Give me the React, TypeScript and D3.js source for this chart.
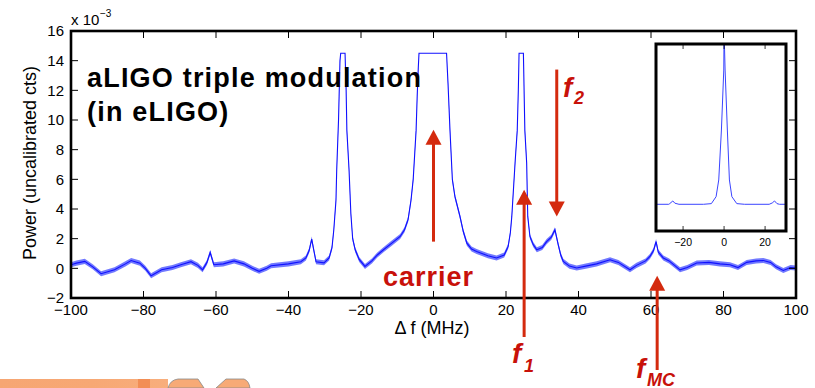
import React from 'react';
import * as d3 from 'd3';

// Main spectrum: frequency offset (MHz) vs power (x 10^-3 uncalibrated counts)
const freqMHz = [
  -100, -98.5, -96.2, -94, -91.7, -88, -85, -83.4, -81, -79.5, -77.9, -75, -72, -69.7, -66.9, -65, -63.7, -62.5,
  -61.6, -60.6, -58, -55, -52.3, -50, -48.1, -46, -44.8, -40, -36.6, -35.2, -34.3, -33.6, -33.0, -32.4, -30.2,
  -28.8, -28.0, -27.5, -26.9, -26.7, -26.2, -25.8, -25.6, -24.4, -24.1, -23.9, -23.3, -22.8, -22.3, -21.6, -20.5,
  -18.9, -17, -15.5, -13.8, -11.5, -9.2, -8, -7, -6.2, -5.6, -4.8, -4.5, -4.2, -4.0, 3.6, 4.0, 4.55, 5.2, 5.9,
  7.3, 8.2, 9.2, 10.5, 11.9, 15, 17.4, 19.5, 20.6, 21.2, 21.6, 22.5, 23.1, 23.4, 23.6, 24.8, 25.2, 25.7, 26.0,
  26.6, 27.5, 28.5, 30, 31.2, 32.5, 33.5, 34.4, 35.1, 35.8, 37.5, 39.5, 42, 45, 48.7, 51, 54.2, 56, 58.5, 59.7,
  60.7, 61.4, 62, 63.4, 65, 68, 70, 72.6, 76, 79, 81.8, 84, 86.4, 89, 91, 93, 94.5, 96.5, 98.5, 100,
];
const powerE3 = [
  0.24, 0.35, 0.47, 0.1, -0.36, -0.1, 0.3, 0.53, 0.35, 0.0, -0.5, -0.1, 0.05, 0.24, 0.45, 0.2, -0.1, 0.4,
  1.07, 0.24, 0.3, 0.5, 0.3, 0.0, -0.2, 0.0, 0.17, 0.3, 0.44, 0.7, 1.2, 1.97, 1.2, 0.44, 0.37,
  0.7, 1.4, 2.6, 4.6, 6.65, 10, 14.0, 14.5, 14.5, 12, 9.3, 6.65, 3.7, 2.0, 1.25, 0.6,
  0.13, 0.5, 0.9, 1.25, 1.7, 2.15, 2.6, 3.3, 4.6, 6.0, 9.3, 11.6, 13.5, 14.5, 14.5, 12.5, 9.3, 6.0, 4.85,
  3.5, 2.5, 1.7, 1.3, 1.14, 0.85, 0.7, 0.9, 1.48, 2.4, 3.5, 7.1, 9.3, 12, 14.5, 14.5, 9.3, 7.1, 3.5,
  2.15, 1.6, 1.25, 1.4, 1.8, 2.1, 2.6, 1.6, 0.9, 0.47, 0.15, 0.02, 0.15, 0.3, 0.58, 0.4, -0.1, 0.2, 0.5, 0.8,
  1.2, 1.8, 1.1, 0.7, 0.5, -0.1, 0.05, 0.36, 0.4, 0.3, 0.24, 0.05, 0.4, 0.5, 0.53, 0.4, 0.1, -0.14, 0.05, 0.02,
];

// Inset: wide-range view (arbitrary units)
const insetFreq = [-33.2, -27, -26.5, -25, -24, -22, -10, -6.2, -3.9, -2.6, -1.3, -0.15, 0, 0.5, 1.6, 2.6, 3.8, 6.2, 10, 22, 23.5, 24.6, 25.8, 27, 30.2];
const insetPower = [0, 0, 0.05, 0.25, 0.08, 0, 0, 0.05, 0.57, 1.82, 5.56, 10.05, 13, 10.05, 5.56, 1.82, 0.57, 0.05, 0, 0, 0.1, 0.25, 0.05, 0, 0];

const xTicks = [-100, -80, -60, -40, -20, 0, 20, 40, 60, 80, 100];
const yTicks = [-2, 0, 2, 4, 6, 8, 10, 12, 14, 16];
const insetTicks = [-20, 0, 20];

const FONT = 'Liberation Sans, Arial, Helvetica, sans-serif';
const RED = '#d42a0e';
const RED_TXT = '#c8110a';
const BLUE = '#1010ff';
const SAT = 14.4;

const fmt = (v: number) => (v < 0 ? '\u2212' + Math.abs(v) : String(v));

function Arrow({ x, y1, y2 }: { x: number; y1: number; y2: number }) {
  const dir = y2 < y1 ? -1 : 1;
  const headH = 15;
  const headW = 8;
  return (
    <g>
      <line x1={x} x2={x} y1={y1} y2={y2 - dir * headH + dir * 1} stroke={RED} strokeWidth={3} />
      <polygon points={`${x},${y2} ${x - headW},${y2 - dir * headH} ${x + headW},${y2 - dir * headH}`} fill={RED} />
    </g>
  );
}

export default function App() {
  const W = 815;
  const H = 388;
  const x = d3.scaleLinear().domain([-100, 100]).range([71, 796]);
  const y = d3.scaleLinear().domain([-2, 16]).range([298, 31]);
  const pts: [number, number][] = freqMHz.map((f, i) => [f, powerE3[i]]);
  const line = d3.line<[number, number]>().x((d) => x(d[0])).y((d) => y(d[1]));
  const half = (v: number) => (v >= SAT ? 0 : 0.17);
  const band = d3
    .area<[number, number]>()
    .x((d) => x(d[0]))
    .y0((d) => y(d[1] - half(d[1])))
    .y1((d) => y(d[1] + half(d[1])));

  const ix = d3.scaleLinear().domain([-33.2, 30.2]).range([656, 786]);
  const iy = d3.scaleLinear().domain([-2, 12]).range([231, 44]);
  const ipts: [number, number][] = insetFreq.map((f, i) => [f, insetPower[i]]);
  const iline = d3.line<[number, number]>().x((d) => ix(d[0])).y((d) => iy(d[1]));

  const [X0, X1] = x.range();
  const [Y0, Y1] = y.range();

  return (
    <svg width={W} height={H} style={{ position: 'absolute', left: 0, top: 0, background: '#fff' }} fontFamily={FONT}>
      <defs>
        <clipPath id="mainClip">
          <rect x={X0} y={Y1} width={X1 - X0} height={Y0 - Y1} />
        </clipPath>
        <clipPath id="insetClip">
          <rect x={656} y={44} width={130} height={187} />
        </clipPath>
        <linearGradient id="orange" x1="0" x2="1" y1="0" y2="0">
          <stop offset="0" stopColor="#f6a673" />
          <stop offset="0.55" stopColor="#f7a874" />
          <stop offset="1" stopColor="#f8ae7c" />
        </linearGradient>
      </defs>

      {/* trace */}
      <g clipPath="url(#mainClip)">
        <path d={band(pts) || ''} fill="#3540ff" opacity={0.7} />
        <path d={line(pts) || ''} fill="none" stroke={BLUE} strokeWidth={1.1} />
      </g>

      {/* ticks */}
      {xTicks.map((t) => (
        <g key={'xt' + t}>
          <line x1={x(t)} x2={x(t)} y1={Y0} y2={Y0 - 7} stroke="#000" strokeWidth={1} />
          <line x1={x(t)} x2={x(t)} y1={Y1} y2={Y1 + 7} stroke="#000" strokeWidth={1} />
          <text x={x(t)} y={315} fontSize={15} textAnchor="middle" fill="#000">
            {fmt(t)}
          </text>
        </g>
      ))}
      {yTicks.map((t) => (
        <g key={'yt' + t}>
          <line x1={X0} x2={X0 + 7} y1={y(t)} y2={y(t)} stroke="#000" strokeWidth={1} />
          <line x1={X1} x2={X1 - 7} y1={y(t)} y2={y(t)} stroke="#000" strokeWidth={1} />
          <text x={64} y={y(t)} dy="0.36em" fontSize={15} textAnchor="end" fill="#000">
            {fmt(t)}
          </text>
        </g>
      ))}

      {/* axes box */}
      <rect x={X0} y={Y1} width={X1 - X0} height={Y0 - Y1} fill="none" stroke="#000" strokeWidth={2.6} />

      {/* exponent */}
      <text x={71} y={25} fontSize={15} fill="#000">
        x 10
      </text>
      <text x={100} y={17} fontSize={10} fill="#000">
        {'\u22123'}
      </text>

      {/* axis labels */}
      <text transform="translate(36,163) rotate(-90)" fontSize={18} textAnchor="middle" fill="#000">
        Power (uncalibrated cts)
      </text>
      <text x={432} y={334} fontSize={18} textAnchor="middle" fill="#000">
        {'\u0394 f (MHz)'}
      </text>

      {/* title */}
      <text x={87} y={87} fontSize={27} fontWeight="bold" letterSpacing={1.2} fill="#000">
        aLIGO triple modulation
      </text>
      <text x={87} y={121} fontSize={27} fontWeight="bold" letterSpacing={1.2} fill="#000">
        (in eLIGO)
      </text>

      {/* inset */}
      <rect x={656} y={44} width={130} height={187} fill="#fff" stroke="none" />
      <g clipPath="url(#insetClip)">
        <path d={iline(ipts) || ''} fill="none" stroke="#3a44ff" strokeWidth={1} />
      </g>
      {insetTicks.map((t) => (
        <g key={'it' + t}>
          <line x1={ix(t)} x2={ix(t)} y1={44} y2={49} stroke="#000" strokeWidth={0.8} />
          <line x1={ix(t)} x2={ix(t)} y1={231} y2={226} stroke="#000" strokeWidth={0.8} />
          <text x={ix(t)} y={246} fontSize={10.5} textAnchor="middle" fill="#000">
            {fmt(t)}
          </text>
        </g>
      ))}
      <rect x={656} y={44} width={130} height={187} fill="none" stroke="#000" strokeWidth={3} />

      {/* annotations */}
      <Arrow x={x(0)} y1={y(1.8)} y2={y(9.35)} />
      <Arrow x={x(25)} y1={337} y2={y(5.3)} />
      <Arrow x={x(34)} y1={y(13.4)} y2={y(3.5)} />
      <Arrow x={x(61.7)} y1={370} y2={y(-0.5)} />

      <text x={383} y={286} fontSize={27} fontWeight="bold" letterSpacing={1} fill={RED_TXT}>
        carrier
      </text>
      <text x={563} y={97} fontSize={28} fontWeight="bold" fontStyle="italic" fill={RED_TXT}>
        f
      </text>
      <text x={574} y={104} fontSize={18} fontWeight="bold" fontStyle="italic" fill={RED_TXT}>
        2
      </text>
      <text x={512} y={363} fontSize={28} fontWeight="bold" fontStyle="italic" fill={RED_TXT}>
        f
      </text>
      <text x={524} y={372} fontSize={18} fontWeight="bold" fontStyle="italic" fill={RED_TXT}>
        1
      </text>
      <text x={636} y={378} fontSize={28} fontWeight="bold" fontStyle="italic" fill={RED_TXT}>
        f
      </text>
      <text x={647} y={386} fontSize={18} fontWeight="bold" fontStyle="italic" fill={RED_TXT}>
        MC
      </text>

      {/* decorative orange strip at the bottom */}
      <rect x={0} y={379} width={168} height={9} fill="url(#orange)" />
      <rect x={138} y={379} width={12} height={9} fill="#f28e55" />
      <path d="M168,388 Q170,380 178,379 L198,379 L204,388 Z" fill="#f7aa76" stroke="#888" strokeWidth={0.8} />
      <path d="M216,388 L226,379 L244,379 Q249,381 250,388 Z" fill="#f7aa76" stroke="#888" strokeWidth={0.8} />
    </svg>
  );
}
